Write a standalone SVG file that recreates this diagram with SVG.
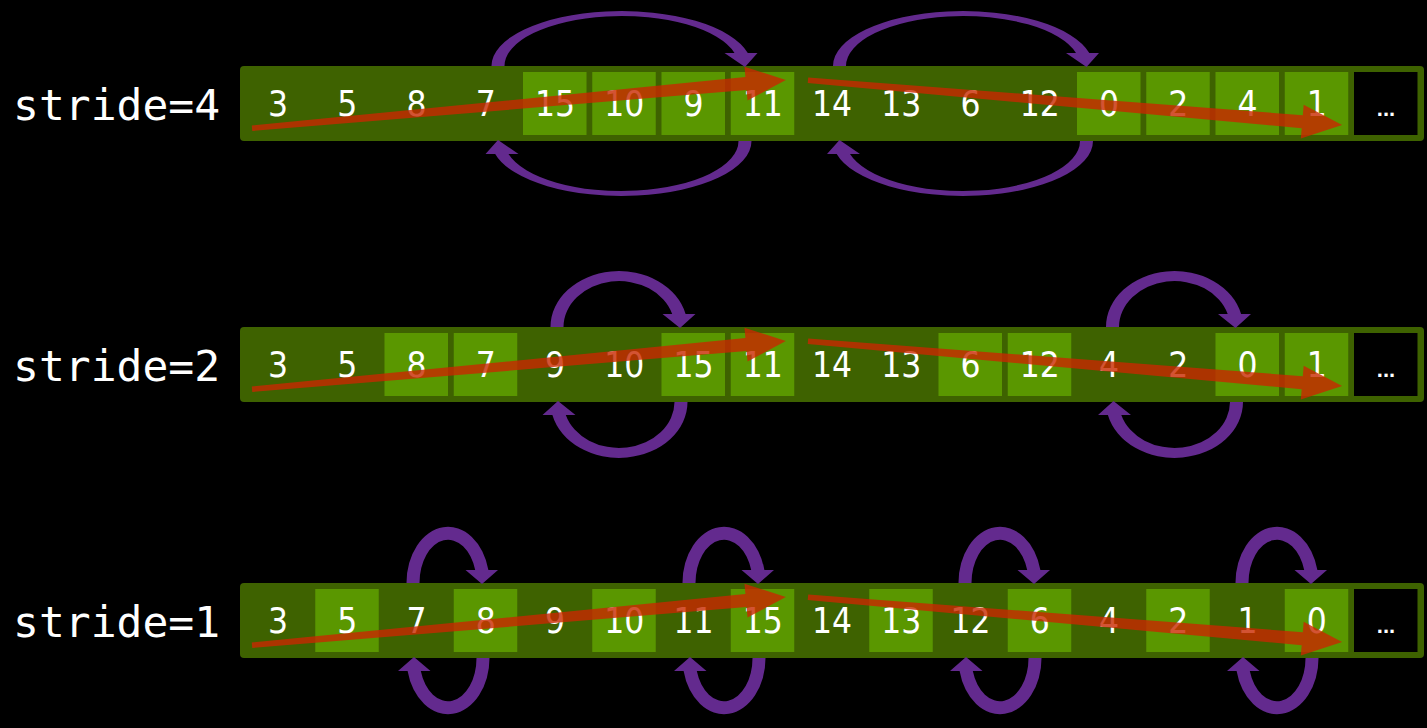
<svg xmlns="http://www.w3.org/2000/svg" xmlns:xlink="http://www.w3.org/1999/xlink" width="1427" height="728" viewBox="0 0 1427 728">
<style>
.bar{fill:#3e6200}
.lt{fill:#5a9700}
.blk{fill:#000}
.num{fill:#fff;font-family:"DejaVu Sans Condensed","DejaVu Sans",sans-serif;font-stretch:condensed;font-size:35px;text-anchor:middle}
.dots{fill:#fff;font-family:"Liberation Sans",Arial,sans-serif;font-weight:bold;font-size:22px;text-anchor:middle}
.lbl{fill:#fff;font-family:"DejaVu Sans Mono",monospace;font-size:43px}
.arc{fill:#632a8e}
.red{fill:#c82800;opacity:0.8}
</style>
<defs>
<path id="arcA" d="M-130,0 A130,55 0 0 1 126.3,-13 L136,-13 L123.5,1 L103,-13 L113,-13 A117,50 0 0 0 -117,0 Z"/>
<path id="arcB" d="M-68.5,0 A68.5,56 0 0 1 66.6,-13 L76.5,-13 L61,1 L43.5,-13 L53.2,-13 A55.5,46 0 0 0 -55.5,0 Z"/>
<path id="arcC" d="M-41.5,0 A41.5,56 0 0 1 40.4,-13 L50,-13 L34,1 L17.5,-13 L27.2,-13 A28.5,43 0 0 0 -28.5,0 Z"/>
<polygon id="redArrow" points="0,-2.5 496,-6.5 496,-17 536,0 496,17 496,6.5 0,3"/>
</defs>
<rect x="0" y="0" width="1427" height="728" fill="#000"/>

<!-- Row 1: stride=4 -->
<g id="row1">
<g id="label1"><text class="lbl" x="13" y="119.5">stride=4</text></g>
<rect id="bar1" class="bar" x="240" y="66" width="1184" height="75" rx="4"/>
<g id="r1c0"><text class="num" x="278" y="115.5">3</text></g>
<g id="r1c1"><text class="num" x="347.25" y="115.5">5</text></g>
<g id="r1c2"><text class="num" x="416.5" y="115.5">8</text></g>
<g id="r1c3"><text class="num" x="485.75" y="115.5">7</text></g>
<g id="r1c4"><rect class="lt" x="523" y="72" width="63.5" height="63"/><text class="num" x="555" y="115.5">15</text></g>
<g id="r1c5"><rect class="lt" x="592.25" y="72" width="63.5" height="63"/><text class="num" x="624.25" y="115.5">10</text></g>
<g id="r1c6"><rect class="lt" x="661.5" y="72" width="63.5" height="63"/><text class="num" x="693.5" y="115.5">9</text></g>
<g id="r1c7"><rect class="lt" x="730.75" y="72" width="63.5" height="63"/><text class="num" x="762.75" y="115.5">11</text></g>
<g id="r1c8"><text class="num" x="832" y="115.5">14</text></g>
<g id="r1c9"><text class="num" x="901.25" y="115.5">13</text></g>
<g id="r1c10"><text class="num" x="970.5" y="115.5">6</text></g>
<g id="r1c11"><text class="num" x="1039.75" y="115.5">12</text></g>
<g id="r1c12"><rect class="lt" x="1077" y="72" width="63.5" height="63"/><text class="num" x="1109" y="115.5">0</text></g>
<g id="r1c13"><rect class="lt" x="1146.25" y="72" width="63.5" height="63"/><text class="num" x="1178.25" y="115.5">2</text></g>
<g id="r1c14"><rect class="lt" x="1215.5" y="72" width="63.5" height="63"/><text class="num" x="1247.5" y="115.5">4</text></g>
<g id="r1c15"><rect class="lt" x="1284.75" y="72" width="63.5" height="63"/><text class="num" x="1316.75" y="115.5">1</text></g>
<g id="r1c16"><rect class="blk" x="1354" y="72" width="63.5" height="63"/><text class="dots" x="1386" y="116">...</text></g>
</g>

<!-- Row 2: stride=2 -->
<g id="row2">
<g id="label2"><text class="lbl" x="13" y="380.5">stride=2</text></g>
<rect id="bar2" class="bar" x="240" y="327" width="1184" height="75" rx="4"/>
<g id="r2c0"><text class="num" x="278" y="376.5">3</text></g>
<g id="r2c1"><text class="num" x="347.25" y="376.5">5</text></g>
<g id="r2c2"><rect class="lt" x="384.5" y="333" width="63.5" height="63"/><text class="num" x="416.5" y="376.5">8</text></g>
<g id="r2c3"><rect class="lt" x="453.75" y="333" width="63.5" height="63"/><text class="num" x="485.75" y="376.5">7</text></g>
<g id="r2c4"><text class="num" x="555" y="376.5">9</text></g>
<g id="r2c5"><text class="num" x="624.25" y="376.5">10</text></g>
<g id="r2c6"><rect class="lt" x="661.5" y="333" width="63.5" height="63"/><text class="num" x="693.5" y="376.5">15</text></g>
<g id="r2c7"><rect class="lt" x="730.75" y="333" width="63.5" height="63"/><text class="num" x="762.75" y="376.5">11</text></g>
<g id="r2c8"><text class="num" x="832" y="376.5">14</text></g>
<g id="r2c9"><text class="num" x="901.25" y="376.5">13</text></g>
<g id="r2c10"><rect class="lt" x="938.5" y="333" width="63.5" height="63"/><text class="num" x="970.5" y="376.5">6</text></g>
<g id="r2c11"><rect class="lt" x="1007.75" y="333" width="63.5" height="63"/><text class="num" x="1039.75" y="376.5">12</text></g>
<g id="r2c12"><text class="num" x="1109" y="376.5">4</text></g>
<g id="r2c13"><text class="num" x="1178.25" y="376.5">2</text></g>
<g id="r2c14"><rect class="lt" x="1215.5" y="333" width="63.5" height="63"/><text class="num" x="1247.5" y="376.5">0</text></g>
<g id="r2c15"><rect class="lt" x="1284.75" y="333" width="63.5" height="63"/><text class="num" x="1316.75" y="376.5">1</text></g>
<g id="r2c16"><rect class="blk" x="1354" y="333" width="63.5" height="63"/><text class="dots" x="1386" y="377">...</text></g>
</g>

<!-- Row 3: stride=1 -->
<g id="row3">
<g id="label3"><text class="lbl" x="13" y="636.5">stride=1</text></g>
<rect id="bar3" class="bar" x="240" y="583" width="1184" height="75" rx="4"/>
<g id="r3c0"><text class="num" x="278" y="632.5">3</text></g>
<g id="r3c1"><rect class="lt" x="315.25" y="589" width="63.5" height="63"/><text class="num" x="347.25" y="632.5">5</text></g>
<g id="r3c2"><text class="num" x="416.5" y="632.5">7</text></g>
<g id="r3c3"><rect class="lt" x="453.75" y="589" width="63.5" height="63"/><text class="num" x="485.75" y="632.5">8</text></g>
<g id="r3c4"><text class="num" x="555" y="632.5">9</text></g>
<g id="r3c5"><rect class="lt" x="592.25" y="589" width="63.5" height="63"/><text class="num" x="624.25" y="632.5">10</text></g>
<g id="r3c6"><text class="num" x="693.5" y="632.5">11</text></g>
<g id="r3c7"><rect class="lt" x="730.75" y="589" width="63.5" height="63"/><text class="num" x="762.75" y="632.5">15</text></g>
<g id="r3c8"><text class="num" x="832" y="632.5">14</text></g>
<g id="r3c9"><rect class="lt" x="869.25" y="589" width="63.5" height="63"/><text class="num" x="901.25" y="632.5">13</text></g>
<g id="r3c10"><text class="num" x="970.5" y="632.5">12</text></g>
<g id="r3c11"><rect class="lt" x="1007.75" y="589" width="63.5" height="63"/><text class="num" x="1039.75" y="632.5">6</text></g>
<g id="r3c12"><text class="num" x="1109" y="632.5">4</text></g>
<g id="r3c13"><rect class="lt" x="1146.25" y="589" width="63.5" height="63"/><text class="num" x="1178.25" y="632.5">2</text></g>
<g id="r3c14"><text class="num" x="1247.5" y="632.5">1</text></g>
<g id="r3c15"><rect class="lt" x="1284.75" y="589" width="63.5" height="63"/><text class="num" x="1316.75" y="632.5">0</text></g>
<g id="r3c16"><rect class="blk" x="1354" y="589" width="63.5" height="63"/><text class="dots" x="1386" y="633">...</text></g>
</g>

<g id="connectors">
<!-- swap arcs -->
<use href="#arcA" xlink:href="#arcA" class="arc" transform="translate(621.5,66)"/>
<use href="#arcA" xlink:href="#arcA" class="arc" transform="translate(621.5,141) rotate(180)"/>
<use href="#arcA" xlink:href="#arcA" class="arc" transform="translate(963,66)"/>
<use href="#arcA" xlink:href="#arcA" class="arc" transform="translate(963,141) rotate(180)"/>

<use href="#arcB" xlink:href="#arcB" class="arc" transform="translate(619,327)"/>
<use href="#arcB" xlink:href="#arcB" class="arc" transform="translate(619,402) rotate(180)"/>
<use href="#arcB" xlink:href="#arcB" class="arc" transform="translate(1174.5,327)"/>
<use href="#arcB" xlink:href="#arcB" class="arc" transform="translate(1174.5,402) rotate(180)"/>

<use href="#arcC" xlink:href="#arcC" class="arc" transform="translate(448,583)"/>
<use href="#arcC" xlink:href="#arcC" class="arc" transform="translate(448,658) rotate(180)"/>
<use href="#arcC" xlink:href="#arcC" class="arc" transform="translate(724,583)"/>
<use href="#arcC" xlink:href="#arcC" class="arc" transform="translate(724,658) rotate(180)"/>
<use href="#arcC" xlink:href="#arcC" class="arc" transform="translate(1000,583)"/>
<use href="#arcC" xlink:href="#arcC" class="arc" transform="translate(1000,658) rotate(180)"/>
<use href="#arcC" xlink:href="#arcC" class="arc" transform="translate(1277,583)"/>
<use href="#arcC" xlink:href="#arcC" class="arc" transform="translate(1277,658) rotate(180)"/>

<!-- bitonic direction arrows -->
<use href="#redArrow" xlink:href="#redArrow" class="red" transform="translate(252,128) rotate(-5.136)"/>
<use href="#redArrow" xlink:href="#redArrow" class="red" transform="translate(808,80) rotate(4.817)"/>
<use href="#redArrow" xlink:href="#redArrow" class="red" transform="translate(252,389) rotate(-5.136)"/>
<use href="#redArrow" xlink:href="#redArrow" class="red" transform="translate(808,341) rotate(4.817)"/>
<use href="#redArrow" xlink:href="#redArrow" class="red" transform="translate(252,645) rotate(-5.136)"/>
<use href="#redArrow" xlink:href="#redArrow" class="red" transform="translate(808,597) rotate(4.817)"/>
</g>
</svg>
